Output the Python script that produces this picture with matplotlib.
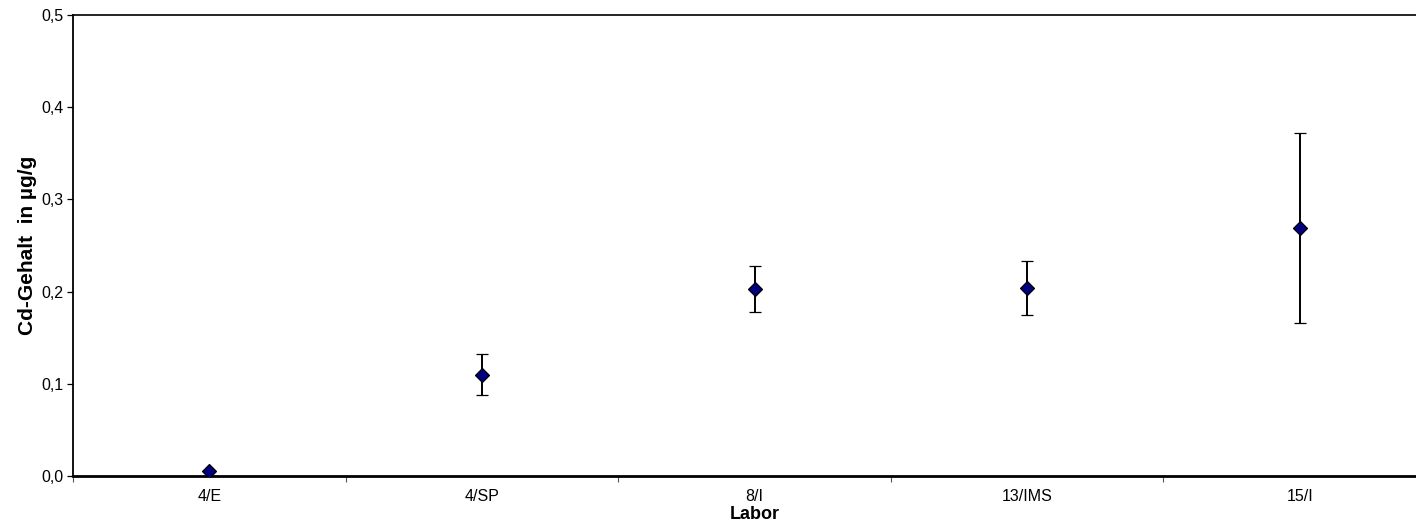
import numpy as np
import matplotlib.pyplot as plt
from matplotlib.ticker import FixedLocator, FuncFormatter

plt.rcParams['font.family'] = ['Liberation Sans', 'DejaVu Sans']

labs = ['4/E', '4/SP', '8/I', '13/IMS', '15/I']
werte = [0.005, 0.110, 0.203, 0.204, 0.269]
fehler = [0.0, 0.022, 0.025, 0.029, 0.103]

fig = plt.figure(figsize=(14.16, 5.28), dpi=100)
ax = fig.add_axes([73 / 1416, 1 - 476 / 528, 1363 / 1416, 461 / 528])

x = np.arange(len(labs))
ax.errorbar(x, werte, yerr=fehler, fmt='D', color='black', mfc='#000080',
            mec='black', mew=0.9, ms=7.5, elinewidth=1.4, capsize=4,
            capthick=1.4, zorder=3)

ax.set_xlim(-0.5, len(labs) - 0.5)
ax.set_ylim(0, 0.5)
ax.set_xticks(x)
ax.set_xticklabels(labs)
ax.xaxis.set_minor_locator(FixedLocator(np.arange(-0.5, len(labs), 1.0)))
ax.tick_params(axis='x', which='major', length=0, labelsize=11.5, pad=9.5)
ax.tick_params(axis='x', which='minor', length=4, width=0.8, color='#555555')
ax.set_yticks(np.arange(0, 0.51, 0.1))
ax.yaxis.set_major_formatter(FuncFormatter(lambda v, p: f'{v:.1f}'.replace('.', ',')))
ax.tick_params(axis='y', length=4, width=0.9, labelsize=11.5, pad=3)

ax.spines['right'].set_visible(False)
ax.spines['top'].set_linewidth(1.2)
ax.spines['left'].set_linewidth(1.3)
ax.spines['bottom'].set_linewidth(2.0)

ax.set_xlabel('Labor', fontsize=13, fontweight='bold', labelpad=1)
ax.set_ylabel('Cd-Gehalt  in µg/g', fontsize=15, fontweight='bold', labelpad=3)

fig.savefig('out.png', dpi=100)
